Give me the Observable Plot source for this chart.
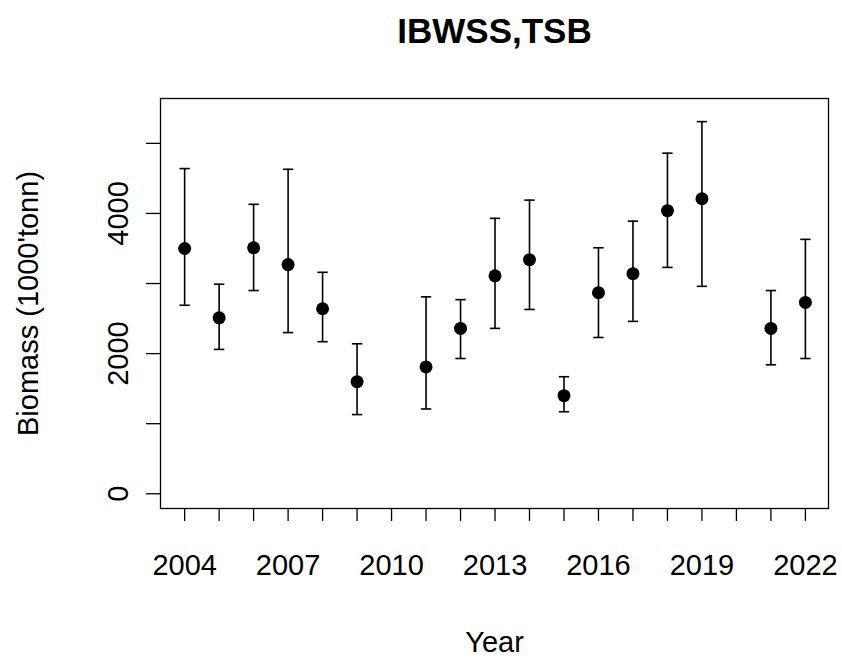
<!DOCTYPE html>
<div id="plot"></div>
<script src="https://cdn.jsdelivr.net/npm/d3@7"></script>
<script src="https://cdn.jsdelivr.net/npm/@observablehq/plot@0.6"></script>
<script>
const years = [2004, 2005, 2006, 2007, 2008, 2009, 2011, 2012, 2013, 2014, 2015, 2016, 2017, 2018, 2019, 2021, 2022];
const tsb   = [3500, 2510, 3510, 3270, 2640, 1600, 1810, 2360, 3110, 3340, 1400, 2870, 3140, 4040, 4210, 2360, 2730];
const upper = [4640, 2990, 4130, 4630, 3160, 2140, 2810, 2770, 3930, 4190, 1670, 3510, 3890, 4860, 5310, 2900, 3630];
const lower = [2690, 2060, 2900, 2300, 2170, 1130, 1210, 1930, 2360, 2630, 1170, 2230, 2460, 3230, 2960, 1840, 1930];
const xTicks = d3.range(2004, 2023);
const xLabels = [2004, 2007, 2010, 2013, 2016, 2019, 2022];
const yTicks = [0, 1000, 2000, 3000, 4000, 5000];
const yLabels = [0, 2000, 4000];

const data = years.map((y, i) => ({year: y, tsb: tsb[i], hi: upper[i], lo: lower[i]}));
const caps = data.flatMap(d => [{year: d.year, v: d.hi}, {year: d.year, v: d.lo}]);
const font = "'Liberation Sans', Arial, sans-serif";

const plot = Plot.plot({
  width: 842, height: 662,
  marginLeft: 160, marginRight: 14, marginTop: 98, marginBottom: 154,
  style: {fontFamily: font, fontSize: "29px", color: "black", background: "white"},
  x: {type: "linear", domain: [2003.3, 2022.67]},
  y: {type: "linear", domain: [-210, 5640]},
  marks: [
    Plot.frame({stroke: "black", strokeWidth: 1.3}),
    Plot.axisX({ticks: xTicks, tickSize: 13, tickFormat: () => "", label: null, strokeWidth: 1.3}),
    Plot.axisX({ticks: xLabels, tickSize: 0, tickPadding: 46, fontSize: 29, tickFormat: d => String(d), label: null}),
    Plot.axisY({ticks: yTicks, tickSize: 14, tickFormat: () => "", label: null, strokeWidth: 1.3}),
    Plot.text(yLabels, {x: 2003.3, y: d => d, text: d => String(d), rotate: -90, dx: -42, fontSize: 29, fill: "black"}),
    Plot.ruleX(data, {x: "year", y1: "lo", y2: "hi", stroke: "black", strokeWidth: 1.6}),
    Plot.link(caps, {x1: d => d.year - 0.15, x2: d => d.year + 0.15, y1: "v", y2: "v", stroke: "black", strokeWidth: 1.6}),
    Plot.dot(data, {x: "year", y: "tsb", r: 6.5, fill: "black", stroke: "none"}),
    Plot.text(["IBWSS,TSB"], {frameAnchor: "top", dy: -80, fontSize: 35, fontWeight: "bold", fill: "black"}),
    Plot.text(["Year"], {frameAnchor: "bottom", dy: 143, fontSize: 29, fill: "black"}),
    Plot.text(["Biomass (1000'tonn)"], {frameAnchor: "left", textAnchor: "middle", dx: -132, rotate: -90, fontSize: 29, fill: "black"})
  ]
});
document.querySelector('#plot').append(plot);
</script>
<style>
html, body { margin: 0; background: white; }
</style>
